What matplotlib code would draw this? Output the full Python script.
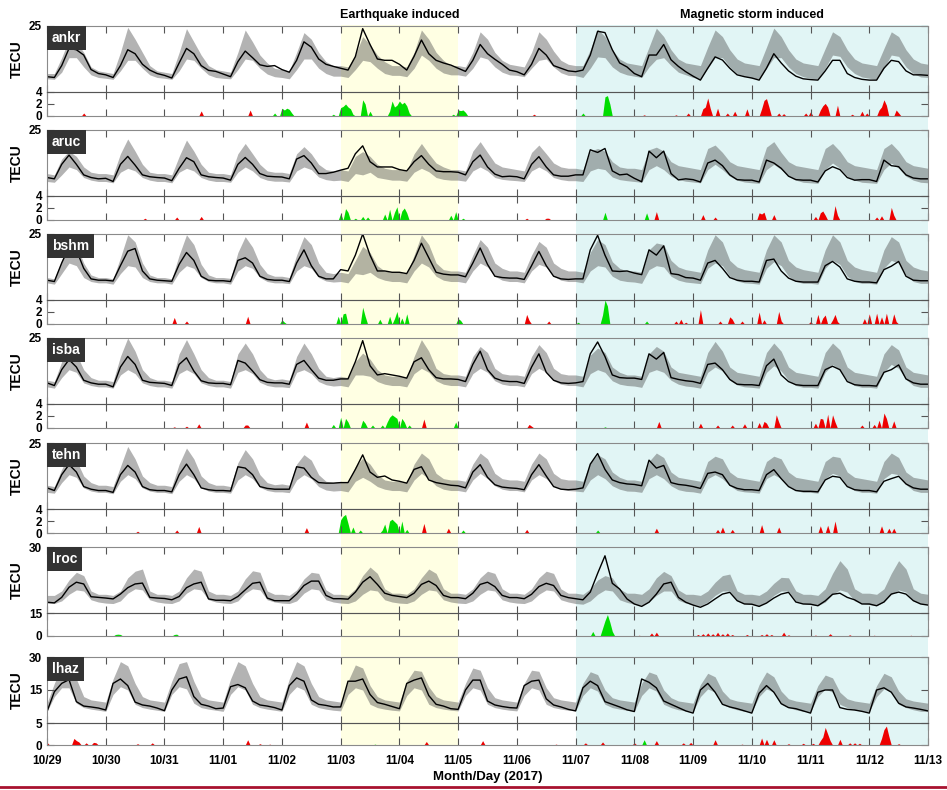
import numpy as np
import matplotlib.pyplot as plt

plt.rcParams['font.family'] = ['Liberation Sans', 'DejaVu Sans']
plt.rcParams['font.weight'] = 'bold'

day_labels = ['10/29', '10/30', '10/31', '11/01', '11/02', '11/03', '11/04', '11/05',
              '11/06', '11/07', '11/08', '11/09', '11/10', '11/11', '11/12', '11/13']

# TEC every 3 h (00,03,...,21 UT) from 10/29 00 UT, one row per day, last value = 11/13 00 UT
ankr_tec = [5.8, 5.5, 10, 16.5, 16, 14, 8.5, 7,
            6.5, 5.5, 10, 16, 14.5, 10.5, 8.3, 7,
            6.3, 5.3, 11, 16.5, 14.5, 10, 8.2, 7.8,
            6.8, 5.8, 11.5, 15.5, 13, 10.3, 9.7, 10,
            8.5, 7.5, 12, 19, 17, 12.5, 10.5, 9.7,
            9, 8.3, 13.4, 24, 18, 12.5, 12, 12,
            10.5, 8.3, 13.5, 19.7, 14.5, 12, 11, 10.2,
            9, 7.8, 12, 18, 14.5, 12.4, 10.5, 8.3,
            7.7, 6.5, 10.5, 16.5, 14, 10, 9, 8,
            7.7, 8.3, 14, 23, 22.5, 16, 11, 9.5,
            7, 5.8, 14, 14, 18, 12.2, 9.7, 7.7,
            6, 4.5, 9, 13.3, 12.1, 9, 6.5, 5.8,
            5.3, 4.5, 9, 14.5, 11, 8, 6, 5,
            4.7, 4.5, 8, 12, 12, 7, 5.5, 4.8,
            4.5, 4.5, 9, 12, 11.5, 8, 6.5, 6.5,
            6.3]
ankr_upper = [7, 7, 13, 20, 19, 15, 9.5, 8,
              7.5, 7, 15, 24.5, 20, 15, 10, 8,
              7.5, 7, 15, 24, 19, 14, 10, 8.5,
              8, 7.5, 15, 23.5, 19, 14, 11, 9,
              8.5, 8, 15, 22.5, 20, 15, 11.5, 10,
              10, 9.5, 14, 21, 18, 14, 11.5, 10,
              10, 9.5, 15, 23.5, 20, 15, 12, 10,
              10, 9.5, 15, 22.8, 20, 15, 12, 10.5,
              10, 9.5, 15, 22.8, 20, 15.5, 12, 10.5,
              10, 10, 16, 23.8, 21, 16, 12.5, 11,
              10.5, 10, 17, 24.2, 21, 16, 12.5, 11,
              10.5, 10, 17, 23.5, 21, 16, 12.5, 11,
              10.5, 10, 17, 24.2, 21, 16, 12.5, 11,
              10.5, 10, 16.5, 22.8, 21, 16, 12.5, 11,
              10.5, 10, 16.5, 22.8, 21, 16, 12.5, 11,
              10.5]
ankr_lower = [5, 4.8, 7.5, 13, 13, 9.5, 6.5, 5.5,
              5.2, 4.8, 8, 12, 12, 9, 6.5, 5.5,
              5.2, 4.8, 8, 12.5, 12, 9, 6.5, 5.5,
              5.2, 5, 8.5, 12.5, 12, 9, 6.8, 5.8,
              5.5, 5, 8.5, 12.5, 12.5, 9, 7, 6,
              6, 5.5, 8.5, 12, 11.5, 9, 7, 6.3,
              6.3, 5.8, 9, 14, 12, 9, 7.2, 6.5,
              6.5, 6, 9, 13.3, 12.5, 9.5, 7.5, 6.5,
              6.3, 5.8, 9, 12, 12.5, 9.5, 7.3, 6.3,
              6.2, 5.5, 9, 13.3, 13, 9.5, 7.5, 6.5,
              6, 5.5, 9.5, 12.4, 13, 10, 7.5, 6.5,
              5.5, 5, 9, 13, 13, 9.5, 7, 6,
              5.3, 4.8, 9, 13, 13, 9.5, 7, 5.8,
              5.2, 4.8, 9, 14, 13.5, 9.5, 7, 5.7,
              5.2, 4.8, 9, 14, 13.5, 9.5, 7, 5.7,
              5.5]

aruc_tec = [7, 6.5, 12, 15.5, 12, 8, 7, 6.5,
            6.7, 5.5, 12, 15, 11.7, 8, 7.3, 7,
            6.8, 5.8, 10.5, 14.5, 13, 8, 7.3, 7,
            6.8, 6, 12, 14.6, 12, 8.5, 7.5, 7.3,
            7.2, 6.5, 14, 15.3, 12.5, 8.5, 8.5, 9,
            9.8, 10.5, 16, 19, 13, 11, 11, 11,
            10, 9.5, 13, 15.3, 12, 9.5, 9.2, 9.2,
            9, 8, 13, 15.5, 11, 8.3, 7.3, 7.5,
            7.3, 6.5, 12, 14.9, 11, 8, 7.5, 7.5,
            8, 8, 17.5, 16.5, 18, 9.5, 8, 8.3,
            6.7, 5.4, 17, 14.5, 17, 8.5, 6.1, 6.5,
            6.2, 5.3, 12.5, 13.6, 11.5, 8, 6.2, 6,
            6, 5.3, 13.6, 12.5, 10.5, 7.5, 6.2, 6,
            6, 5.3, 9.5, 11.1, 10, 7, 6, 6.2,
            6.2, 5.5, 13.6, 11.5, 11.1, 8, 6.8, 6.5,
            6.5]
aruc_upper = [8.5, 8, 14, 17, 15, 11, 9, 8.5,
              8.5, 8, 16, 21.6, 17, 12, 9, 8.5,
              8.5, 8, 15, 21.2, 17, 12, 9, 8.5,
              8.5, 8, 16, 19.9, 16, 12, 9.5, 9,
              9, 8.5, 16, 18.7, 16, 12, 10, 9.5,
              10, 9.5, 15, 16.8, 15, 12, 10.5, 10,
              10, 9.5, 16, 19.9, 16, 12.5, 11, 10,
              10, 9.5, 17, 20.6, 16.5, 12.5, 11, 10.5,
              10, 9.5, 16.5, 19.3, 16, 12.5, 11, 10.5,
              10.5, 10, 17, 18, 17, 13, 11, 10.5,
              10.5, 10, 17.5, 18.5, 17, 13, 11.5, 11,
              10.5, 10, 18, 19.3, 16.5, 13, 11.5, 11,
              10.5, 10, 18.5, 20.6, 16.5, 13, 11.5, 11,
              10.5, 10, 18, 19.9, 17, 13, 11.5, 11,
              10.5, 10, 18, 19.9, 17, 13, 11.5, 11,
              10.5]
aruc_lower = [5.5, 5.2, 8, 11, 10, 7, 6, 5.5,
              5.5, 5, 9, 10.5, 9.5, 7, 6, 5.5,
              5.5, 5, 9, 10.5, 9.5, 7, 6, 5.5,
              5.5, 5.2, 9, 11, 9.5, 7, 6, 5.6,
              5.6, 5.3, 9.5, 11, 10, 7.2, 6.2, 5.8,
              6, 5.5, 8.5, 8, 9, 7, 6.5, 6,
              6, 5.6, 9, 10.5, 9.2, 7, 6.3, 6,
              6, 5.6, 9.5, 11, 9.5, 7, 6.3, 6,
              5.8, 5.5, 9.5, 11, 9.5, 7, 6.2, 5.8,
              5.8, 5.5, 9.5, 10.5, 10, 7.2, 6.2, 5.8,
              5.5, 5.2, 10, 11.5, 10, 7.5, 6.2, 5.6,
              5.3, 5, 10, 12, 10, 7.5, 6, 5.3,
              5, 4.8, 10, 12, 10, 7.5, 6, 5.2,
              5, 4.8, 10, 12.5, 10.5, 7.5, 6, 5.2,
              5, 4.8, 10, 12.5, 10.5, 7.5, 6, 5.2,
              5]

bshm_tec = [7.5, 7, 14, 20, 19, 12, 8, 7.5,
            7.5, 7.2, 13, 18.5, 19.5, 11, 8, 7.5,
            7.3, 7.1, 13.5, 18, 15, 9, 7.5, 7.3,
            7.3, 7, 15, 16, 14, 9, 7.8, 7.5,
            7.5, 7, 14, 19, 13, 9, 8, 8,
            11.5, 11, 17, 25, 17, 11, 11, 10.5,
            10.5, 10, 15, 21.5, 16, 10.5, 9.8, 9.5,
            9.5, 8.8, 14, 19.7, 13.5, 9, 8.5, 8.3,
            8.3, 7.8, 13, 18.4, 13, 9, 8, 7.8,
            8, 8, 19, 24.5, 17, 11, 10.8, 11,
            10.2, 9.6, 19, 17, 20.5, 10, 9.6, 8.5,
            8.3, 7.5, 14, 15, 12, 8.5, 7.5, 7.1,
            7.1, 6.8, 15, 15.5, 11, 8.3, 7.1, 6.8,
            6.8, 6.8, 13, 14.6, 12.5, 8, 7.1, 6.8,
            6.8, 6.5, 11.5, 12.8, 14.6, 9, 7.5, 7.3,
            7.3]
bshm_upper = [8.5, 8, 15, 23, 21, 14, 9.5, 8.5,
              8.5, 8, 16, 24.7, 22, 14, 9.5, 8.5,
              8.5, 8, 17, 24.7, 21, 13.5, 9.5, 8.5,
              8.5, 8.2, 18, 24, 20, 13.5, 10, 9,
              9, 8.5, 17, 24, 21, 14, 10.5, 10,
              10.5, 10, 15, 20.3, 18, 13, 11, 10.5,
              10.5, 10, 17, 24.7, 21, 14, 11.5, 11,
              11, 10.5, 17, 22.9, 20, 14, 12, 11,
              11, 10.5, 17, 22.2, 20, 14, 12, 11,
              11, 10.5, 18, 22.9, 21, 14.5, 12, 11,
              11, 10.5, 19, 21.6, 21, 15, 12.5, 11.5,
              11, 10.5, 19, 24.7, 22, 15, 12.5, 11.5,
              11, 10.5, 19, 24.7, 22, 15, 12.5, 11.5,
              11, 10.5, 19, 24.7, 22, 15, 12.5, 11.5,
              11, 10.5, 19, 24, 22, 15, 12.5, 11.5,
              11]
bshm_lower = [6.5, 6, 10, 14, 13, 8.5, 7, 6.5,
              6.5, 6, 10, 13, 12.5, 8.5, 7, 6.5,
              6.5, 6, 10.5, 13, 12, 8.5, 7, 6.5,
              6.5, 6, 11, 13, 12, 8.5, 7, 6.5,
              6.5, 6.2, 11, 13, 12, 8.5, 7.2, 6.8,
              7, 6.5, 10, 9.6, 10.5, 8.5, 7.5, 7,
              7, 6.5, 11, 14, 12.5, 9, 7.5, 7,
              7, 6.5, 11, 14, 12.5, 9, 7.5, 7,
              7, 6.5, 11, 13.5, 12.5, 9, 7.5, 7,
              7, 6.5, 11, 13, 12.5, 9, 7.5, 7,
              6.8, 6.3, 11.5, 13, 12.5, 9, 7.5, 6.8,
              6.5, 6.2, 12, 14, 13, 9, 7.2, 6.5,
              6.3, 6, 12, 14.5, 13, 9, 7, 6.3,
              6.3, 6, 12, 15, 13.5, 9, 7, 6.3,
              6.3, 6, 12, 15, 14, 9.5, 7, 6.3,
              6.3]

isba_tec = [8, 7, 13, 16.8, 14, 9, 8, 7.5,
            7.5, 6.5, 14, 18, 15, 9, 8.2, 8,
            7.8, 7, 15, 17.5, 12.5, 8.8, 8, 7.8,
            7.8, 7.3, 16.5, 15.5, 12.5, 9.2, 8.2, 8,
            8, 7.5, 15, 16.5, 13, 9.8, 9, 9,
            9.5, 9.5, 16, 24, 14.5, 11, 11.5, 11,
            10.5, 9.8, 16, 17.5, 13, 10, 9.5, 9.5,
            9.3, 8.5, 15, 20, 13, 9.8, 8.8, 8.5,
            8.5, 7.8, 14, 19, 12, 9, 8, 7.8,
            8, 8.5, 19, 23.5, 18, 11, 10, 9.8,
            9.8, 9.3, 19, 17, 19.5, 10, 9.3, 8.8,
            8.5, 7.8, 15, 15.5, 13, 9.3, 7.5, 7.3,
            7.3, 7, 14.5, 17, 11, 8.5, 7.3, 7,
            7, 7, 13, 14.3, 13, 8.5, 7.3, 7,
            7, 6.8, 12, 13, 14.8, 9.5, 8, 7.5,
            7.5]
isba_upper = [9, 8.5, 16, 22, 19, 13, 10, 9,
              9, 8.5, 18, 25, 20, 13, 10, 9,
              9, 8.5, 19, 24.4, 19, 13, 10, 9,
              9, 8.5, 19, 23.1, 19, 13, 10, 9.2,
              9.5, 9, 18, 23.1, 19, 13.5, 10.5, 10,
              10.5, 10, 16, 19.3, 17, 13, 11, 10.5,
              10.5, 10, 18, 24.4, 20, 13.5, 11.5, 11,
              11, 10.5, 18, 21.8, 19.5, 13.5, 11.5, 11,
              11, 10.5, 18, 22.5, 19.5, 13.5, 11.5, 11,
              11, 10.5, 18.5, 21.2, 19.5, 14, 12, 11,
              11, 10.5, 19, 21.8, 20, 14, 12, 11.5,
              11, 10.5, 19.5, 23.7, 20, 14, 12, 11.5,
              11, 10.5, 19.5, 23.1, 20, 14, 12, 11.5,
              11, 10.5, 19.5, 23.1, 20.5, 14, 12, 11.5,
              11, 10.5, 19, 22.5, 20.5, 14, 12, 11.5,
              11]
isba_lower = [6.5, 6, 10, 13, 12, 8, 7, 6.5,
              6.5, 6, 11, 13, 11.5, 8, 7, 6.5,
              6.5, 6, 11.5, 13, 11.5, 8, 7, 6.5,
              6.5, 6, 12, 13, 11.5, 8.2, 7, 6.5,
              6.5, 6.2, 12, 13, 11.5, 8.5, 7.3, 6.8,
              7, 6.5, 11, 11, 10.5, 8.5, 7.5, 7,
              7, 6.5, 11.5, 13.5, 12, 8.8, 7.5, 7,
              7, 6.5, 11.5, 13.5, 12, 8.8, 7.5, 7,
              7, 6.5, 11.5, 13.5, 12, 8.8, 7.5, 7,
              7, 6.5, 11.5, 13, 12, 8.8, 7.5, 7,
              6.8, 6.3, 12, 13, 12, 9, 7.5, 6.8,
              6.5, 6, 12, 14, 12.5, 9, 7.2, 6.5,
              6.3, 6, 12, 14.5, 12.5, 9, 7, 6.3,
              6.3, 6, 12, 15, 13, 9, 7, 6.3,
              6.3, 6, 12, 15, 13.5, 9.3, 7, 6.3,
              6.3]

tehn_tec = [8, 7, 13, 16.8, 14, 8.5, 7.5, 7,
            7, 6.3, 13, 16.5, 14, 8.5, 7.3, 7,
            7, 6.5, 13, 17, 13, 8, 7.3, 7,
            7, 6.8, 16, 15.5, 13, 8.5, 7.8, 7.5,
            7.5, 7.5, 16, 15.5, 12, 10, 9.8, 9.8,
            10, 10, 15, 20.5, 14, 12, 12.5, 11,
            10.5, 9.8, 15, 16, 11, 10, 9.5, 9,
            8.8, 8, 14, 16.8, 12, 9.2, 8.3, 8,
            7.8, 7.3, 13, 16.8, 12.5, 8.5, 7.5, 7.3,
            7.5, 8, 17, 21, 15, 11, 10, 9.5,
            9.3, 8.8, 18.5, 15.5, 16.5, 10, 9.3, 9,
            8.5, 7.8, 13.5, 14, 13, 9, 7.8, 7.3,
            7.3, 7, 13, 14.9, 11.5, 8.5, 7, 6.7,
            6.7, 6.5, 11, 12.4, 12, 8.5, 7.3, 7,
            7, 6.5, 10.5, 11.5, 12.4, 9.5, 8, 7.5,
            7.5]
tehn_upper = [9, 8.5, 15, 21, 18.5, 12.5, 10, 9,
              9, 8.5, 16, 23.7, 19, 12.5, 10, 9,
              9, 8.5, 17, 23.1, 19, 12.5, 10, 9,
              9, 8.5, 17.5, 22.5, 19, 13, 10, 9.2,
              9.5, 9, 17, 20.6, 18.5, 13, 10.5, 10,
              10.5, 10, 16, 19.3, 17, 13, 11, 10.5,
              10.5, 10, 17, 21.2, 19, 13.5, 11.5, 11,
              11, 10.5, 17, 21.2, 19, 13.5, 11.5, 11,
              11, 10.5, 17, 21.2, 19, 13.5, 11.5, 11,
              11, 10.5, 17.5, 20.6, 19, 14, 12, 11,
              11, 10.5, 18, 21.2, 19.5, 14, 12, 11.5,
              11, 10.5, 18, 20, 19, 14, 12, 11.5,
              11, 10.5, 18, 20, 19, 14, 12, 11.5,
              11, 10.5, 18, 20, 19.5, 14, 12, 11.5,
              11, 10.5, 18, 21.2, 19.5, 14, 12, 11.5,
              11]
tehn_lower = [6.3, 6, 10, 13, 12, 8, 6.8, 6.3,
              6.3, 5.8, 10.5, 13, 11.5, 8, 6.8, 6.3,
              6.3, 5.8, 10.5, 13, 11.5, 8, 6.8, 6.3,
              6.3, 6, 11, 13, 11.5, 8.2, 7, 6.5,
              6.5, 6.2, 11, 13, 11.5, 8.5, 7.2, 6.8,
              7, 6.5, 10.5, 12, 10.5, 8.5, 7.5, 7,
              7, 6.5, 11, 13.5, 11.5, 8.8, 7.5, 7,
              7, 6.5, 11, 13.5, 11.5, 8.8, 7.5, 7,
              7, 6.5, 11, 13, 11.5, 8.8, 7.5, 7,
              6.8, 6.5, 11, 13, 11.5, 8.8, 7.5, 6.8,
              6.7, 6.3, 11.5, 13, 11.5, 8.8, 7.3, 6.7,
              6.5, 6, 11.5, 13, 11.5, 8.8, 7, 6.5,
              6.3, 6, 11.5, 13, 11.5, 8.8, 7, 6.3,
              6.3, 6, 11.5, 13.5, 12.5, 8.8, 7, 6.3,
              6.3, 6, 11.5, 13.5, 13, 9.2, 7, 6.3,
              6.3]

lroc_tec = [4.9, 4.6, 7.1, 11.7, 14, 13.2, 7.4, 7.1,
            6.8, 6.4, 8.6, 11.5, 13.2, 13.6, 7.1, 6.8,
            6.6, 6, 7.5, 11.5, 13.2, 14, 6.4, 5.8,
            5.8, 5.6, 7.5, 10.5, 13.5, 14, 6.8, 5.6,
            5.6, 5.6, 8.6, 12.5, 14.5, 14.5, 8, 6.5,
            6.5, 6.3, 9.5, 14, 16.5, 13, 9, 8,
            7.5, 7, 9, 13, 14.5, 12.5, 8, 7,
            7, 6.5, 9, 13, 14, 12, 8, 7,
            7, 6.5, 8.5, 12, 13.5, 12.5, 8, 7,
            6.5, 6, 9.5, 18, 26, 13.5, 10.9, 6.4,
            4.1, 3, 4.9, 8.6, 13.2, 14, 7.1, 4.9,
            3.6, 2.6, 4.1, 6.4, 8.6, 9.4, 5.6, 4.1,
            4, 3, 4.5, 6.8, 8.6, 9.4, 5, 4.1,
            4, 3.3, 5.5, 8.5, 9, 7.1, 6, 4.1,
            4.1, 3.3, 5, 8.6, 9.5, 8.6, 5.6, 4.1,
            3.6]
lroc_upper = [8, 8, 10, 15, 18.5, 17, 10, 8.5,
              8.5, 8, 10, 16, 19, 20, 10, 8.5,
              8.5, 8, 10, 16, 20, 19, 10, 8.5,
              8.5, 8, 10, 15.5, 19.2, 18.5, 10, 8.5,
              8.5, 8, 10.5, 15.5, 18.5, 18, 10.5, 8.5,
              8.5, 8, 11, 17, 20.9, 18, 11, 9,
              9, 8.5, 11, 16, 20, 18, 11, 9,
              9, 8.5, 11, 16, 19, 18, 11, 9,
              9, 8.5, 11, 16, 19, 18, 11, 9,
              9, 8.5, 11, 15, 17, 16, 11, 9,
              9, 8.5, 11, 16, 18.9, 17, 10.5, 8.5,
              8.5, 8, 10, 14, 17, 17.7, 10, 8.5,
              8.5, 8, 10, 13.5, 16.2, 16, 10, 8.5,
              8.5, 8, 11, 18, 23.8, 20, 11, 9,
              9, 8.5, 11, 18, 23.8, 20, 11, 9,
              8.5]
lroc_lower = [4.5, 4.3, 5.5, 8.5, 10.5, 10, 6, 5,
              4.5, 4.3, 5.5, 9, 11, 10.5, 6, 5,
              4.5, 4.3, 5.5, 9, 11, 10.5, 6, 5,
              4.5, 4.3, 5.5, 9, 11, 10.5, 6, 5,
              4.5, 4.3, 5.5, 9, 11, 10.5, 6, 5,
              4.5, 4.3, 5.5, 8.5, 10.5, 10, 6, 5,
              4.5, 4.3, 5.5, 8.5, 10.5, 10, 6, 5,
              4.5, 4.3, 5.5, 8.5, 10.5, 10, 6, 5,
              4.5, 4.3, 5.5, 8.5, 10.5, 10, 6, 5,
              4.3, 4, 5.5, 8.5, 10.5, 10, 6, 4.8,
              4, 3.5, 5, 8, 10, 10, 5.8, 4.5,
              3.8, 3.3, 5, 8, 10, 10, 5.5, 4.3,
              3.8, 3.3, 5, 8, 10, 10, 5.5, 4.3,
              3.8, 3.3, 5, 8.5, 10.5, 9.5, 5.5, 4.3,
              3.8, 3.3, 5, 8.5, 10.5, 9.5, 5.5, 4.3,
              3.8]

lhaz_tec = [5.2, 14.2, 18, 19.7, 9.7, 7.7, 7.3, 6.8,
            5.9, 18, 20, 17, 9.5, 8.2, 7.7, 6.8,
            5.6, 15, 20, 21, 12, 8.5, 7.7, 6.5,
            6.8, 16.5, 17.5, 16, 10, 8.2, 7.7, 7,
            5.9, 17, 20.5, 19, 10.5, 8.5, 8, 7.3,
            7.3, 19, 19, 20, 13, 9.3, 8.5, 7.5,
            6.5, 18, 19.5, 20.5, 12.5, 8.5, 7.7, 6.5,
            6.2, 15, 19.5, 19.5, 10, 8.2, 7.5, 7,
            6.8, 17, 19, 19.5, 11, 8.2, 7.3, 6.2,
            5.5, 16, 19, 17, 9.7, 8.5, 7.3, 6,
            5.2, 20, 18.5, 16, 10, 8.5, 7, 5.5,
            4.5, 15, 18, 14, 8.5, 7.3, 6.5, 5.5,
            4.5, 13.5, 17, 14, 8.8, 7, 6.5, 5.5,
            4.5, 14, 15, 15, 7, 6.2, 5.9, 5.3,
            4.5, 15, 16, 14, 9, 7.3, 6.8, 6.2,
            5.5]
lhaz_upper = [9, 18, 26, 28, 20, 12, 10.5, 10,
              9.5, 20, 27.9, 26, 18, 12, 10.5, 10,
              9.5, 19, 27, 27.9, 19, 12, 10.5, 10,
              9.5, 20, 27.9, 26, 18, 12, 10.5, 10,
              9.5, 20, 27.9, 26, 18, 12, 10.5, 10,
              9.5, 19, 26.4, 25, 17, 12, 10.5, 10,
              9.5, 19, 24, 23.5, 16.5, 12, 10.5, 10,
              9.5, 18, 25, 24, 16, 11.5, 10.5, 10,
              9.5, 18, 24, 23.5, 16, 11.5, 10.5, 10,
              9.5, 18, 23.3, 22, 15, 11.5, 10.5, 10,
              9.5, 18, 23.2, 22, 15, 11.5, 10, 9.5,
              9, 17.5, 22.6, 21, 14.5, 11, 10, 9.5,
              9, 17.5, 23.2, 21, 14.5, 11, 10, 9.5,
              9, 17, 21.8, 20.5, 14, 11, 10, 9.5,
              9, 17, 22.6, 21, 14.5, 11, 10, 9.5,
              9]
lhaz_lower = [5.2, 12, 16, 16, 9, 7, 6.3, 5.8,
              5.3, 13, 16.5, 15, 8.5, 7, 6.3, 5.8,
              5.3, 13, 16.5, 15.5, 9, 7, 6.3, 5.8,
              5.3, 13, 16.5, 15, 8.5, 7, 6.3, 5.8,
              5.3, 13, 16.5, 15, 8.5, 7, 6.3, 5.8,
              5.5, 13, 16, 15, 8.5, 7, 6.3, 5.8,
              5.5, 12.5, 16, 15, 8.5, 7, 6.3, 5.8,
              5.5, 12.5, 16, 15, 8.5, 7, 6.3, 5.8,
              5.5, 12.5, 16, 15, 8.5, 7, 6.3, 5.8,
              5.5, 12.5, 16, 14.5, 8.5, 7, 6.3, 5.8,
              5.3, 12.5, 16, 14.5, 8.5, 7, 6, 5.5,
              5.2, 12, 15.5, 14, 8.5, 7, 6, 5.3,
              5.2, 12, 15.5, 14, 8.5, 7, 6, 5.3,
              5.2, 12, 15.5, 14, 8.5, 7, 6, 5.3,
              5.2, 12, 15.5, 14, 8.5, 7, 6, 5.3,
              5.2]

# anomalies: (hour since 10/29 00 UT, magnitude in TECU)
ankr_pos = [(93, 0.5), (96, 1.3), (97, 1.0), (98, 1.3), (99, 1.1), (100, 0.5), (117, 0.3),
            (120, 1.4), (121, 1.6), (122, 2.0), (123, 1.5), (124, 1.2), (125, 0.3), (129, 2.7),
            (130, 2.0), (132, 0.8), (140, 0.8), (141, 2.5), (142, 1.5), (143, 1.8), (144, 2.5),
            (145, 2.0), (146, 2.3), (147, 1.7), (148, 0.5), (166, 0.3), (168, 1.0), (169, 0.9),
            (170, 1.0), (171, 0.6), (219, 0.5), (228, 3.2), (229, 3.4), (230, 2.0)]
ankr_neg = [(15, 0.5), (63, 0.85), (83, 1.0), (199, 0.3), (244, 0.2), (257, 0.2), (262, 0.5),
            (268, 1.2), (269, 1.5), (270, 3.0), (271, 1.3), (274, 1.3), (278, 0.5), (281, 0.8),
            (286, 1.2), (292, 1.2), (293, 2.6), (294, 2.9), (295, 1.5), (299, 0.5), (301, 0.4),
            (310, 0.5), (312, 0.7), (316, 1.0), (317, 1.7), (318, 2.1), (319, 1.5), (323, 1.8),
            (329, 0.3), (333, 0.8), (335, 0.5), (340, 1.0), (341, 1.5), (342, 2.7), (343, 1.8),
            (347, 1.0), (348, 0.5)]
aruc_pos = [(120, 1.1), (122, 1.9), (123, 1.3), (126, 0.3), (129, 0.6), (131, 0.5), (138, 1.0),
            (140, 1.8), (142, 1.3), (143, 2.2), (145, 1.5), (146, 2.0), (147, 1.2), (165, 0.8),
            (167, 1.4), (170, 0.3), (228, 1.3), (245, 1.2)]
aruc_neg = [(40, 0.3), (53, 0.5), (63, 0.6), (196, 0.3), (204, 0.3), (205, 0.3), (249, 1.4),
            (268, 0.9), (273, 0.5), (291, 1.2), (292, 1.0), (293, 1.3), (297, 0.9), (314, 0.6),
            (316, 1.2), (317, 1.5), (318, 0.8), (322, 2.4), (323, 0.8), (339, 0.5), (341, 0.7),
            (345, 2.1), (346, 0.8)]
bshm_pos = [(96, 0.7), (97, 0.3), (119, 1.3), (121, 1.7), (122, 1.8), (129, 2.8), (130, 1.3),
            (136, 0.8), (140, 1.3), (142, 0.9), (143, 2.1), (145, 1.0), (147, 1.7), (168, 0.9),
            (169, 0.6), (217, 0.3), (227, 1.5), (228, 4.0), (229, 3.0), (245, 0.5)]
bshm_neg = [(52, 1.1), (57, 0.5), (82, 1.3), (196, 1.6), (197, 0.6), (205, 0.5), (257, 0.5),
            (259, 0.8), (261, 0.3), (267, 2.4), (275, 0.5), (279, 1.2), (280, 0.8), (284, 0.5),
            (291, 2.0), (293, 0.7), (299, 2.1), (300, 0.5), (312, 0.4), (315, 1.6), (317, 1.0),
            (318, 1.5), (321, 0.7), (322, 1.6), (323, 0.4), (334, 0.9), (336, 1.7), (339, 1.8),
            (341, 1.2), (343, 1.8), (346, 1.7), (347, 0.4)]
isba_pos = [(117, 0.6), (120, 1.8), (122, 1.6), (123, 1.0), (129, 1.3), (130, 0.8), (133, 0.5),
            (137, 0.5), (139, 1.0), (140, 1.8), (141, 2.2), (142, 1.9), (143, 1.6), (145, 1.6),
            (146, 1.0), (148, 0.5), (167, 1.0), (228, 0.2)]
isba_neg = [(52, 0.2), (57, 0.3), (62, 0.7), (81, 0.5), (82, 0.5), (106, 1.0), (154, 1.5),
            (197, 0.6), (198, 0.3), (250, 1.1), (267, 0.8), (274, 0.5), (280, 0.5), (285, 0.7),
            (291, 0.9), (293, 1.1), (294, 0.8), (298, 2.2), (299, 1.0), (314, 0.8), (316, 1.6),
            (317, 1.5), (319, 2.3), (321, 2.2), (322, 1.0), (333, 0.5), (338, 0.6), (340, 1.3),
            (342, 2.5), (343, 1.6), (346, 1.2)]
tehn_pos = [(120, 2.2), (121, 2.8), (122, 3.1), (123, 1.6), (125, 1.0), (128, 0.5), (137, 0.5),
            (138, 1.5), (140, 2.0), (141, 2.3), (142, 1.9), (143, 1.5), (145, 2.0), (147, 0.6),
            (170, 0.5), (225, 0.5)]
tehn_neg = [(37, 0.3), (53, 0.5), (62, 1.1), (106, 0.9), (154, 1.6), (164, 0.8), (196, 0.6),
            (249, 0.8), (274, 0.6), (276, 1.0), (280, 0.6), (292, 1.4), (299, 1.0), (316, 1.2),
            (319, 1.3), (322, 2.0), (341, 1.2), (344, 0.8), (346, 0.8)]
lroc_pos = [(28, 1.0), (29, 1.2), (30, 1.0), (52, 1.0), (53, 1.2), (89, 0.3), (223, 3.0),
            (227, 5.0), (228, 10.0), (229, 14.0), (230, 9.0), (231, 3.0)]
lroc_neg = [(242, 0.5), (247, 2.0), (249, 2.5), (266, 1.0), (268, 1.5), (270, 2.0), (272, 1.5),
            (274, 2.5), (276, 1.5), (278, 2.0), (280, 1.0), (286, 1.0), (292, 1.0), (294, 1.5),
            (296, 1.0), (301, 2.5), (303, 0.8), (314, 0.6), (320, 1.5), (328, 0.8), (338, 0.5),
            (353, 0.5)]
lhaz_pos = [(134, 0.2), (244, 1.2)]
lhaz_neg = [(0, 0.6), (11, 1.5), (12, 1.0), (13, 0.7), (16, 0.5), (19, 0.6), (20, 0.5),
            (37, 0.3), (43, 0.5), (82, 1.2), (87, 0.3), (91, 0.2), (155, 0.8), (178, 1.0),
            (208, 0.2), (220, 0.5), (227, 0.7), (240, 0.5), (249, 1.0), (260, 0.5), (263, 0.6),
            (273, 1.2), (284, 0.2), (292, 1.6), (294, 1.3), (297, 1.2), (303, 0.3), (309, 0.4),
            (313, 0.4), (316, 1.0), (317, 1.8), (318, 4.0), (319, 2.5), (320, 1.0), (324, 1.3),
            (328, 0.5), (330, 0.5), (332, 0.4), (341, 1.5), (342, 3.5), (343, 4.3), (344, 2.0),
            (348, 0.3)]

stations = [
    # name, tec, upper, lower, pos, neg, tec ylim, tec ticks, anomaly ylim, anomaly ticks
    ('ankr', ankr_tec, ankr_upper, ankr_lower, ankr_pos, ankr_neg, 25, [25], 4, [0, 2, 4]),
    ('aruc', aruc_tec, aruc_upper, aruc_lower, aruc_pos, aruc_neg, 25, [25], 4, [0, 2, 4]),
    ('bshm', bshm_tec, bshm_upper, bshm_lower, bshm_pos, bshm_neg, 25, [25], 4, [0, 2, 4]),
    ('isba', isba_tec, isba_upper, isba_lower, isba_pos, isba_neg, 25, [25], 4, [0, 2, 4]),
    ('tehn', tehn_tec, tehn_upper, tehn_lower, tehn_pos, tehn_neg, 25, [25], 4, [0, 2, 4]),
    ('lroc', lroc_tec, lroc_upper, lroc_lower, lroc_pos, lroc_neg, 30, [30], 15, [0, 15]),
    ('lhaz', lhaz_tec, lhaz_upper, lhaz_lower, lhaz_pos, lhaz_neg, 30, [15, 30], 5, [0, 5]),
]

hours = np.arange(0, 361, 3)
hourly = np.arange(0, 361)


def spikes(pairs):
    a = np.zeros(len(hourly))
    for h, v in pairs:
        a[h] = v
    return a


W, H = 947, 790
fig = plt.figure(figsize=(W / 100, H / 100), dpi=100)
X0, X1 = 47, 928
tops = [26, 130, 234, 338, 443, 547, 657]
TEC_H = 66
anom_h = [24, 24, 24, 24, 24, 23, 22]


def rect(top, h):
    return [X0 / W, 1 - (top + h) / H, (X1 - X0) / W, h / H]


# shaded periods behind all panels
bg = fig.add_axes(rect(25, 720), zorder=0)
bg.set_xlim(0, 360)
bg.axis('off')
bg.axvspan(120, 168, color='#ffffe3', lw=0)
bg.axvspan(216, 360, color='#e1f5f5', lw=0)

spine_col = '#8a8a8a'
tick_kw = dict(direction='in', top=True, right=True, length=5, width=0.8,
               color='#555555', labelsize=8.5, pad=3.5)

for i, (name, tec, up, lo, pos, neg, tmax, tticks, amax, aticks) in enumerate(stations):
    top = tops[i]
    ax = fig.add_axes(rect(top, TEC_H), zorder=1)
    ax.set_facecolor('none')
    ax.fill_between(hours, lo, up, color='#4a4a4a', alpha=0.42, lw=0)
    ax.plot(hours, tec, color='black', lw=1.0)
    ax.set_xlim(0, 360)
    ax.set_ylim(0, tmax)
    ax.set_yticks(tticks)
    ax.set_xticks(np.arange(0, 361, 24))
    ax.set_xticklabels([])
    ax.tick_params(**tick_kw)
    for s in ax.spines.values():
        s.set_color(spine_col)
        s.set_linewidth(0.8)
    ax.annotate(name, xy=(0, 1), xycoords='axes fraction', xytext=(3.6, -3.6),
                textcoords='offset points', ha='left', va='top', color='white', fontsize=10,
                bbox=dict(boxstyle='square,pad=0.36', fc='#333333', ec='none'))
    fig.text(17 / W, 1 - (top + TEC_H / 2) / H, 'TECU', rotation=90, ha='center', va='center',
             fontsize=10)

    an = fig.add_axes(rect(top + TEC_H, anom_h[i]), zorder=1)
    an.set_facecolor('none')
    an.fill_between(hourly, 0, spikes(pos), color='#00dd00', lw=0)
    an.fill_between(hourly, 0, spikes(neg), color='#ee0000', lw=0)
    an.set_xlim(0, 360)
    an.set_ylim(0, amax)
    an.set_yticks(aticks)
    an.set_xticks(np.arange(0, 361, 24))
    an.tick_params(**tick_kw)
    if i == len(stations) - 1:
        an.set_xticklabels(day_labels)
        an.tick_params(axis='x', pad=7)
    else:
        an.set_xticklabels([])
    for s in an.spines.values():
        s.set_color(spine_col)
        s.set_linewidth(0.8)
    an.spines['top'].set_color('#555555')

fig.text(400 / W, 1 - 15 / H, 'Earthquake induced', ha='center', va='center', fontsize=9)
fig.text(752 / W, 1 - 15 / H, 'Magnetic storm induced', ha='center', va='center', fontsize=9)
fig.text((X0 + X1) / 2 / W, 1 - 777 / H, 'Month/Day (2017)', ha='center', va='center',
         fontsize=9.5)
fig.add_artist(plt.Line2D([0, 1], [1 - 787 / H] * 2, color='#a8122f', lw=2,
                          transform=fig.transFigure))

fig.savefig('out.png', dpi=100)
